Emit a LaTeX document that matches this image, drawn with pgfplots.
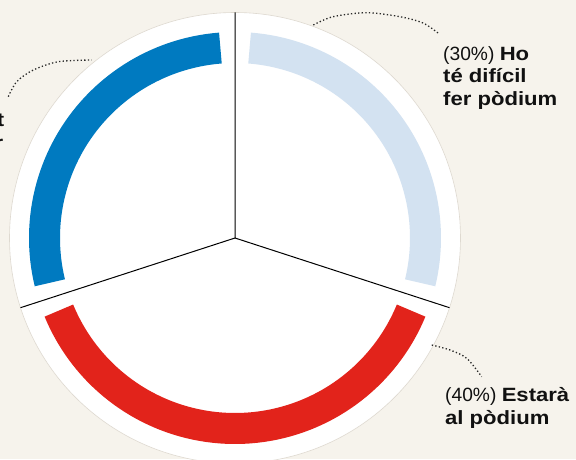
\documentclass[border=0pt]{standalone}
\usepackage{pgfplots}
\pgfplotsset{compat=1.18}
\usepackage{pgfplotstable}
\usepackage{fontspec}
\setmainfont{Liberation Sans}[BoldFeatures={FakeStretch=1.15}]
\definecolor{bgc}{RGB}{246,243,236}
\definecolor{cblue}{RGB}{0,122,192}
\definecolor{clight}{RGB}{211,226,241}
\definecolor{cred}{RGB}{226,35,27}
\definecolor{cedge}{RGB}{222,217,208}
\definecolor{txt}{RGB}{17,17,17}
\definecolor{dots}{RGB}{40,40,40}

% share of each answer, clockwise from the top
\pgfplotstableread{
name value
difficil 30
podium 40
guanyar 30
}\pietable

\pgfplotstablegetelem{0}{value}\of\pietable \let\vA\pgfplotsretval
\pgfplotstablegetelem{1}{value}\of\pietable \let\vB\pgfplotsretval
\pgfplotstablegetelem{2}{value}\of\pietable \let\vC\pgfplotsretval

\def\cx{235}\def\cy{221}
\def\R{225.5}\def\rb{190.5}\def\gap{4.4}
\pgfmathsetmacro{\aA}{90}
\pgfmathsetmacro{\aB}{\aA-3.6*\vA}
\pgfmathsetmacro{\aC}{\aB-3.6*\vB}
\pgfmathsetmacro{\aD}{\aC-3.6*\vC}
% arc limits
\pgfmathsetmacro{\lAs}{\aB+\gap}\pgfmathsetmacro{\lAe}{\aA-\gap}
\pgfmathsetmacro{\lBs}{\aC+\gap}\pgfmathsetmacro{\lBe}{\aB-\gap}
\pgfmathsetmacro{\lCs}{\aD+\gap}\pgfmathsetmacro{\lCe}{\aC-\gap}
% divider ends
\pgfmathsetmacro{\xA}{\cx+\R*cos(\aA)}\pgfmathsetmacro{\yA}{\cy+\R*sin(\aA)}
\pgfmathsetmacro{\xB}{\cx+\R*cos(\aB)}\pgfmathsetmacro{\yB}{\cy+\R*sin(\aB)}
\pgfmathsetmacro{\xC}{\cx+\R*cos(\aC)}\pgfmathsetmacro{\yC}{\cy+\R*sin(\aC)}

\begin{document}
\begin{tikzpicture}
\useasboundingbox (0,0) rectangle (576pt,459pt);
\clip (0,0) rectangle (576pt,459pt);
\fill[bgc] (0,0) rectangle (576pt,459pt);
\begin{axis}[
  at={(0,0)}, anchor=south west,
  x=1pt, y=1pt,
  xmin=0, xmax=576, ymin=0, ymax=459,
  hide axis, clip=false,
  every axis plot/.append style={no markers},
]
\draw[fill=white, draw=cedge, line width=0.6pt] (axis cs:\cx,\cy) circle[radius=\R];

\addplot[domain=\lAs:\lAe, samples=90, variable=\t, line width=31pt, draw=clight]
  ({\cx+\rb*cos(\t)},{\cy+\rb*sin(\t)});
\addplot[domain=\lBs:\lBe, samples=120, variable=\t, line width=31pt, draw=cred]
  ({\cx+\rb*cos(\t)},{\cy+\rb*sin(\t)});
\addplot[domain=\lCs:\lCe, samples=90, variable=\t, line width=31pt, draw=cblue]
  ({\cx+\rb*cos(\t)},{\cy+\rb*sin(\t)});

\addplot[black, line width=1pt] coordinates {(\xA,\yA) (\cx,\cy) (\xB,\yB)};
\addplot[black, line width=1pt] coordinates {(\cx,\cy) (\xC,\yC)};

% dotted leaders
\addplot[dots, smooth, line width=1.3pt, dash pattern=on 1.3pt off 2.3pt]
  coordinates {(313.3,434) (333,442.3) (366.7,446.3) (400,442.3) (423,436) (438,426)};
\addplot[dots, smooth, line width=1.3pt, dash pattern=on 1.3pt off 2.3pt]
  coordinates {(431.7,114) (450,109) (466.7,100.7) (481.7,82.3)};
\addplot[dots, smooth, line width=1.3pt, dash pattern=on 1.3pt off 2.3pt]
  coordinates {(8.3,362.3) (16.7,377.3) (33.3,389) (58.3,397.3) (91.7,399)};

\begin{scope}[every node/.style={inner sep=0pt, text=txt, font=\fontsize{19.2}{22.5}\selectfont}]
\node[anchor=base west] at (axis cs:443,398.5) {(30\%) \textbf{Ho}};
\node[anchor=base west] at (axis cs:443,376) {\textbf{té difícil}};
\node[anchor=base west] at (axis cs:443,353.5) {\textbf{fer pòdium}};
\node[anchor=base west] at (axis cs:445,57.3) {(40\%) \textbf{Estarà}};
\node[anchor=base west] at (axis cs:445,35) {\textbf{al pòdium}};
\node[anchor=base east] at (axis cs:4.5,332.3) {(30\%) \textbf{Pot}};
\node[anchor=base east] at (axis cs:3.5,309) {\textbf{guanyar}};
\end{scope}
\end{axis}
\end{tikzpicture}
\end{document}
